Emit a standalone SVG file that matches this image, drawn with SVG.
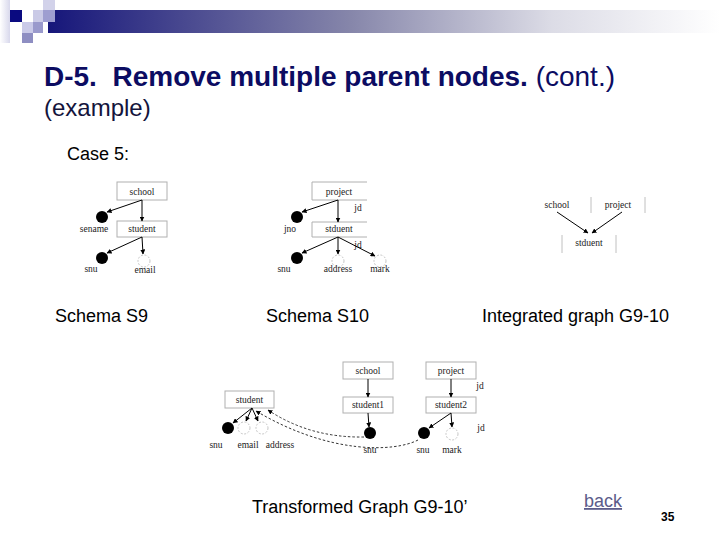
<svg xmlns="http://www.w3.org/2000/svg" width="720" height="540" viewBox="0 0 720 540">
<defs>
<linearGradient id="band" x1="0" y1="0" x2="1" y2="0">
<stop offset="0" stop-color="#16167a"/>
<stop offset="0.45" stop-color="#8686aa"/>
<stop offset="0.75" stop-color="#dcdce6"/>
<stop offset="1" stop-color="#ffffff"/>
</linearGradient>
<linearGradient id="col" x1="0" y1="0" x2="1" y2="0">
<stop offset="0" stop-color="#ffffff"/>
<stop offset="1" stop-color="#d8d8ec"/>
</linearGradient>
<marker id="ah" viewBox="0 0 10 10" refX="9" refY="5" markerWidth="5" markerHeight="5" orient="auto" markerUnits="userSpaceOnUse">
<path d="M0,0 L10,5 L0,10 z" fill="#000"/>
</marker>
<style>
.t{font-family:"Liberation Sans",Arial,sans-serif}
.lbl{font-family:"Liberation Serif","Times New Roman",serif;font-size:9.5px;fill:#222;text-anchor:middle}
.box{fill:#fff;stroke:#b0b0b0;stroke-width:1}
.open{fill:none;stroke:#b0b0b0;stroke-width:1}
.e{stroke:#000;stroke-width:1;fill:none;marker-end:url(#ah)}
.d{stroke:#000;stroke-width:0.8;fill:none;stroke-dasharray:2.5,2;marker-end:url(#ah)}
.f{fill:#000}
.o{fill:#fff;stroke:#b8b8b8;stroke-width:0.8;stroke-dasharray:2,1.5}
.cap{font-family:"Liberation Sans",Arial,sans-serif;font-size:18px;fill:#000}
</style>
</defs>
<rect width="720" height="540" fill="#fff"/>
<g id="header">
<rect x="0" y="0" width="10" height="43" fill="url(#col)"/>
<rect x="48" y="10" width="672" height="23" fill="url(#band)"/>
<rect x="10" y="10" width="12" height="12" fill="#0a0a80"/>
<rect x="33" y="10" width="10" height="12" fill="#cacae6"/>
<rect x="43" y="0" width="12" height="10" fill="#d2d2ea"/>
<rect x="43" y="10" width="12" height="12" fill="#9e9ed0"/>
<rect x="22" y="22" width="11" height="11" fill="#cacae8"/>
<rect x="33" y="22" width="10" height="11" fill="#9a9acc"/>
<rect x="22" y="33" width="11" height="10" fill="#8e8ec2"/>
</g>
<g id="titles">
<text class="t" x="44" y="86" font-size="28" fill="#0c0c62" xml:space="preserve"><tspan font-weight="bold">D-5.  Remove multiple parent nodes.</tspan> (cont.)</text>
<text class="t" x="44" y="116" font-size="24" fill="#14143c">(example)</text>
<text class="cap" x="67" y="160">Case 5:</text>
</g>
<g id="s9">
<g id="s9-school"><rect class="box" x="117" y="182" width="50" height="18"/><text class="lbl" x="142" y="195">school</text></g>
<g id="s9-student"><rect class="box" x="117" y="221" width="50" height="16"/><text class="lbl" x="142" y="232">student</text></g>
<g id="s9-sename"><circle class="f" cx="102" cy="217" r="6"/><text class="lbl" x="94" y="232">sename</text></g>
<g id="s9-snu"><circle class="f" cx="102" cy="258" r="6"/><text class="lbl" x="91" y="272">snu</text></g>
<g id="s9-email"><circle class="o" cx="144" cy="261" r="6"/><text class="lbl" x="145" y="273">email</text></g>
</g>
<g id="s10">
<g id="s10-project"><path class="open" d="M367,182 H312 V200 H367"/><text class="lbl" x="339" y="195">project</text></g>
<g id="s10-student"><path class="open" d="M367,222 H312 V237 H367"/><text class="lbl" x="339" y="232">stduent</text></g>
<g id="s10-jno"><circle class="f" cx="297" cy="217" r="6"/><text class="lbl" x="290" y="232">jno</text></g>
<g id="s10-snu"><circle class="f" cx="297" cy="258" r="6"/><text class="lbl" x="284" y="272">snu</text></g>
<g id="s10-address"><circle class="o" cx="338" cy="261" r="6"/><text class="lbl" x="338" y="272">address</text></g>
<g id="s10-mark"><circle class="o" cx="380" cy="261" r="6"/><text class="lbl" x="380" y="272">mark</text></g>
<text class="lbl" x="358" y="211">jd</text>
<text class="lbl" x="358" y="248">jd</text>
</g>
<g id="g910">
<g id="g-school"><text class="lbl" x="557" y="208">school</text><line x1="591" y1="197" x2="591" y2="213" stroke="#c0c0c0" stroke-width="1"/></g>
<g id="g-project"><text class="lbl" x="618" y="208">project</text><line x1="645" y1="197" x2="645" y2="213" stroke="#c0c0c0" stroke-width="1"/></g>
<g id="g-student"><line x1="562" y1="235" x2="562" y2="253" stroke="#c0c0c0" stroke-width="1"/><text class="lbl" x="589" y="246">stduent</text><line x1="616" y1="235" x2="616" y2="253" stroke="#c0c0c0" stroke-width="1"/></g>
</g>
<g id="tg">
<g id="tg-student"><rect class="box" x="225" y="391" width="49" height="17"/><text class="lbl" x="249.5" y="403">student</text></g>
<g id="tg-school"><rect class="box" x="343" y="362" width="50" height="17"/><text class="lbl" x="368" y="374">school</text></g>
<g id="tg-student1"><rect class="box" x="343" y="397" width="50" height="16"/><text class="lbl" x="368" y="408">student1</text></g>
<g id="tg-project"><rect class="box" x="426" y="362" width="50" height="17"/><text class="lbl" x="451" y="374">project</text></g>
<g id="tg-student2"><rect class="box" x="426" y="397" width="50" height="16"/><text class="lbl" x="451" y="408">student2</text></g>
<g id="tg-snu"><circle class="f" cx="228" cy="428" r="6"/><text class="lbl" x="216" y="448">snu</text></g>
<g id="tg-email"><circle class="o" cx="244" cy="428" r="6"/><text class="lbl" x="248" y="448">email</text></g>
<g id="tg-address"><circle class="o" cx="262" cy="428" r="6"/><text class="lbl" x="280" y="448">address</text></g>
<g id="tg-snu1"><circle class="f" cx="370" cy="433" r="6"/><text class="lbl" x="370" y="453">snu</text></g>
<g id="tg-snu2"><circle class="f" cx="424" cy="433" r="6"/><text class="lbl" x="423" y="453">snu</text></g>
<g id="tg-mark"><circle class="o" cx="452" cy="434" r="6"/><text class="lbl" x="452" y="453">mark</text></g>
<text class="lbl" x="480" y="389">jd</text>
<text class="lbl" x="481" y="431">jd</text>
</g>
<g id="connectors">
<line class="e" x1="142" y1="200" x2="142" y2="221"/>
<line class="e" x1="142" y1="200" x2="107" y2="212"/>
<line class="e" x1="142" y1="237" x2="107" y2="253"/>
<line class="e" x1="142" y1="237" x2="143" y2="254"/>
<line class="e" x1="338" y1="200" x2="338" y2="222"/>
<line class="e" x1="338" y1="200" x2="302" y2="212"/>
<line class="e" x1="338" y1="237" x2="302" y2="253"/>
<line class="e" x1="338" y1="237" x2="338" y2="254"/>
<line class="e" x1="338" y1="237" x2="375" y2="256"/>
<line class="e" x1="557" y1="212" x2="588" y2="233"/>
<line class="e" x1="622" y1="212" x2="592" y2="233"/>
<line class="e" x1="368" y1="379" x2="368" y2="397"/>
<line class="e" x1="368" y1="413" x2="369" y2="427"/>
<line class="e" x1="451" y1="379" x2="451" y2="397"/>
<line class="e" x1="451" y1="413" x2="429" y2="428"/>
<line class="e" x1="451" y1="413" x2="452" y2="427"/>
<line class="e" x1="252" y1="408" x2="233" y2="423"/>
<line class="e" x1="252" y1="408" x2="246" y2="421"/>
<line class="e" x1="252" y1="408" x2="258" y2="421"/>
<path class="d" d="M364,437 Q310,438 268,410"/>
<path class="d" d="M418,440 C395,452 330,455 256,411"/>
</g>
<g id="captions">
<text class="cap" x="55" y="322">Schema S9</text>
<text class="cap" x="266" y="322">Schema S10</text>
<text class="cap" x="482" y="322">Integrated graph G9-10</text>
<text class="cap" x="252" y="513">Transformed Graph G9-10’</text>
<text class="cap" x="584" y="507" text-decoration="underline" style="fill:#5c5c8a">back</text>
<text class="t" x="661" y="521" font-size="12" font-weight="bold" fill="#000">35</text>
</g>
</svg>
